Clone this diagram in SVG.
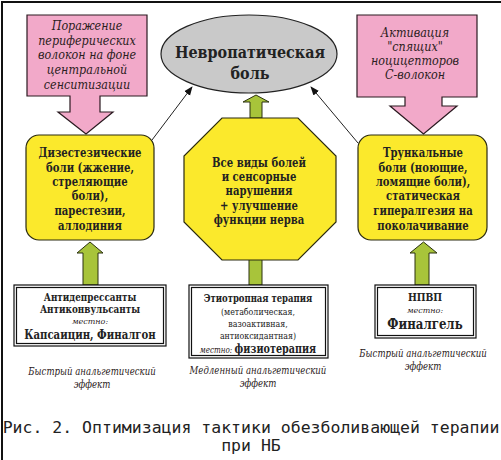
<svg xmlns="http://www.w3.org/2000/svg" width="501" height="460" viewBox="0 0 501 460">
<style>
.pink{fill:#f2a9c9;stroke:#2a1a20;stroke-width:1.2}
.yel{fill:#fbe92c;stroke:#2a2a10;stroke-width:1.2}
.grn{fill:#a8c43a;stroke:#2a3010;stroke-width:1}
.box{fill:#fff;stroke:#111;stroke-width:1.2}
.it{font-family:'DejaVu Serif',serif;font-style:italic;fill:#2a2020;text-anchor:middle}
.b{font-family:'DejaVu Serif',serif;font-weight:bold;fill:#222;text-anchor:middle}
.r{font-family:'DejaVu Serif',serif;fill:#222;text-anchor:middle}
.cap{font-family:'DejaVu Sans Mono',monospace;fill:#222;text-anchor:middle}
.thin{stroke:#222;stroke-width:1;fill:none}
</style>
<defs>
<marker id="ah" viewBox="0 0 10 10" refX="9" refY="5" markerWidth="9" markerHeight="9" markerUnits="userSpaceOnUse" orient="auto">
<path d="M0,1 L10,5 L0,9 Z" fill="#111"/>
</marker>
</defs>
<rect width="501" height="460" fill="#fff"/>
<path d="M2,460 V2 H501" fill="none" stroke="#111" stroke-width="2"/>

<g id="connectors">
<line class="thin" x1="152" y1="140" x2="192" y2="87" marker-end="url(#ah)"/>
<line class="thin" x1="358" y1="143" x2="311" y2="87" marker-end="url(#ah)"/>
<polygon class="grn" points="250,118 250,102 243,102 256,95 269,102 262,102 262,118"/>
<polygon class="grn" points="83,285 83,253 77,253 90,242 103,253 98,253 98,285"/>
<polygon class="grn" points="249,285 249,258 262,258 262,285"/>
<polygon class="grn" points="415,285 415,253 410,253 423.5,242 437,253 429,253 429,285"/>
</g>

<g id="pink-left">
<polygon class="pink" points="27,15 147,15 147,96 100,96 100,112 113,112 86,134 58,112 70,112 70,96 27,96"/>
<text class="it" font-size="12" transform="matrix(0.93,0,0,1,6.09,0)"><tspan x="87" y="30">Поражение</tspan><tspan x="87" y="45">периферических</tspan><tspan x="87" y="59">волокон на фоне</tspan><tspan x="87" y="74">центральной</tspan><tspan x="87" y="89">сенситизации</tspan></text>
</g>

<g id="pink-right">
<polygon class="pink" points="357,15 477,15 477,97 442,97 442,106 457,106 423.5,134 390,106 405,106 405,97 357,97"/>
<text class="it" font-size="12" transform="matrix(0.93,0,0,1,29.05,0)"><tspan x="415" y="37">Активация</tspan><tspan x="415" y="51">"спящих"</tspan><tspan x="415" y="65">ноцицепторов</tspan><tspan x="415" y="79">С-волокон</tspan></text>
</g>

<g id="ellipse">
<ellipse cx="249" cy="54" rx="88" ry="39" fill="#c9c9c9" stroke="#222" stroke-width="1.2"/>
<text class="b" font-size="17.5" transform="matrix(0.82,0,0,1,45,0)"><tspan x="250" y="58">Невропатическая</tspan><tspan x="250" y="79">боль</tspan></text>
</g>

<g id="yellow-left">
<rect class="yel" x="26" y="135" width="128" height="105" rx="13"/>
<text class="b" font-size="12" transform="matrix(0.84,0,0,1,14.4,0)"><tspan x="90" y="157">Дизестезические</tspan><tspan x="90" y="172">боли (жжение,</tspan><tspan x="90" y="186">стреляющие</tspan><tspan x="90" y="200">боли),</tspan><tspan x="90" y="215">парестезии,</tspan><tspan x="90" y="230">аллодиния</tspan></text>
</g>

<g id="octagon">
<polygon class="yel" points="222,118 298,118 336,156 336,222 298,260 222,260 184,222 184,156"/>
<text class="b" font-size="12" transform="matrix(0.84,0,0,1,41.44,0)"><tspan x="259" y="167">Все виды болей</tspan><tspan x="259" y="181">и сенсорные</tspan><tspan x="259" y="195">нарушения</tspan><tspan x="259" y="210">+ улучшение</tspan><tspan x="259" y="224">функции нерва</tspan></text>
</g>

<g id="yellow-right">
<rect class="yel" x="358" y="135" width="129" height="105" rx="13"/>
<text class="b" font-size="12" transform="matrix(0.84,0,0,1,67.68,0)"><tspan x="423" y="157">Трункальные</tspan><tspan x="423" y="172">боли (ноющие,</tspan><tspan x="423" y="186">ломящие боли),</tspan><tspan x="423" y="200">статическая</tspan><tspan x="423" y="215">гипералгезия на</tspan><tspan x="423" y="230">поколачивание</tspan></text>
</g>

<g id="box-left">
<rect class="box" x="14" y="285" width="152" height="61"/>
<rect class="box" x="16.5" y="287.5" width="147" height="56" stroke-width="0.8"/>
<text class="b" font-size="10.5" transform="matrix(0.84,0,0,1,14.4,0)"><tspan x="90" y="301">Антидепрессанты</tspan><tspan x="90" y="313">Антиконвульсанты</tspan></text>
<text class="it" font-size="8" x="90" y="324">местно:</text>
<text class="b" font-size="13" x="90" y="339" transform="matrix(0.78,0,0,1,19.8,0)">Капсаицин, Финалгон</text>
</g>

<g id="box-mid">
<rect class="box" x="189" y="285" width="139" height="73"/>
<rect class="box" x="191.5" y="287.5" width="134" height="68" stroke-width="0.8"/>
<text class="b" font-size="11" x="258" y="302" transform="matrix(0.77,0,0,1,59.34,0)">Этиотропная терапия</text>
<text class="r" font-size="10" transform="matrix(0.79,0,0,1,54.18,0)"><tspan x="258" y="315">(метаболическая,</tspan><tspan x="258" y="327">вазоактивная,</tspan><tspan x="258" y="339">антиоксидантная)</tspan></text>
<text x="258" y="353" class="b" font-size="12" transform="matrix(0.8,0,0,1,51.6,0)"><tspan class="it" font-weight="normal" font-size="9">местно: </tspan>физиотерапия</text>
</g>

<g id="box-right">
<rect class="box" x="375" y="285" width="101" height="53"/>
<rect class="box" x="377.5" y="287.5" width="96" height="48" stroke-width="0.8"/>
<text class="b" font-size="11.5" x="425" y="301" transform="matrix(0.81,0,0,1,80.75,0)">НПВП</text>
<text class="it" font-size="8" x="425" y="313">местно:</text>
<text class="b" font-size="14" x="425" y="329" transform="matrix(0.84,0,0,1,68,0)">Финалгель</text>
</g>

<g id="notes">
<text class="it" font-size="11" transform="matrix(0.78,0,0,1,20.24,0)"><tspan x="92" y="375">Быстрый анальгетический</tspan><tspan x="92" y="388">эффект</tspan></text>
<text class="it" font-size="11" transform="matrix(0.78,0,0,1,56.76,0)"><tspan x="258" y="374">Медленный анальгетический</tspan><tspan x="258" y="387">эффект</tspan></text>
<text class="it" font-size="11" transform="matrix(0.78,0,0,1,93.06,0)"><tspan x="423" y="357">Быстрый анальгетический</tspan><tspan x="423" y="370">эффект</tspan></text>
</g>

<g id="caption">
<text class="cap" font-size="16.5"><tspan x="251" y="433">Рис. 2. Оптимизация тактики обезболивающей терапии</tspan><tspan x="251" y="451">при НБ</tspan></text>
</g>
</svg>
